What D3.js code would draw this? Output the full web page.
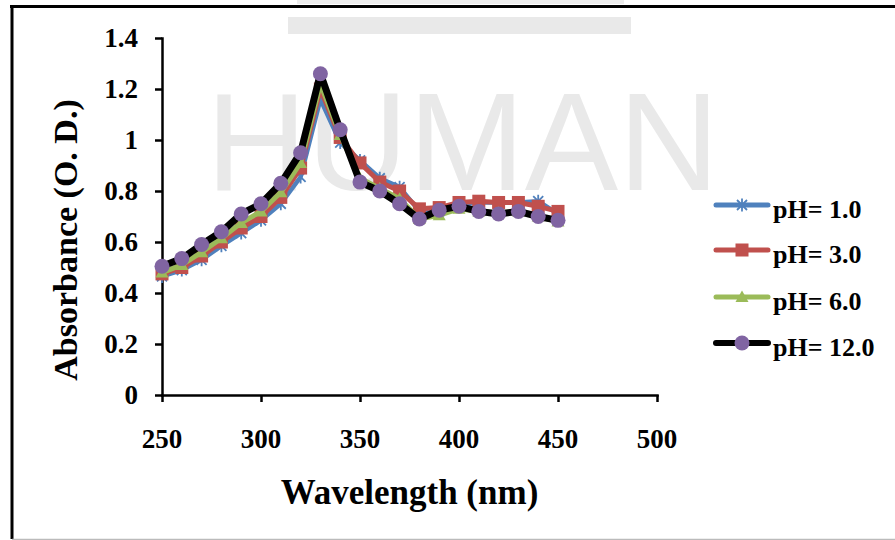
<!DOCTYPE html>
<html>
<head>
<meta charset="utf-8">
<script src="https://cdn.jsdelivr.net/npm/d3@7"></script>
<style>
  body { margin: 0; background: #fff; }
</style>
</head>
<body>
<div id="chart"></div>
<script>
// Data
const wavelengths = [250, 260, 270, 280, 290, 300, 310, 320, 330, 340, 350, 360, 370, 380, 390, 400, 410, 420, 430, 440, 450];
const ph1 = [0.465, 0.49, 0.53, 0.585, 0.635, 0.685, 0.75, 0.855, 1.16, 0.99, 0.92, 0.85, 0.815, 0.72, 0.72, 0.745, 0.755, 0.755, 0.755, 0.76, 0.71];
const ph3 = [0.475, 0.50, 0.545, 0.60, 0.655, 0.70, 0.775, 0.89, 1.20, 1.01, 0.91, 0.835, 0.80, 0.73, 0.735, 0.755, 0.76, 0.755, 0.755, 0.74, 0.72];
const ph6 = [0.48, 0.51, 0.56, 0.615, 0.675, 0.72, 0.795, 0.91, 1.22, 1.02, 0.85, 0.81, 0.77, 0.69, 0.705, 0.73, 0.72, 0.715, 0.72, 0.70, 0.68];
const ph12 = [0.505, 0.535, 0.59, 0.64, 0.71, 0.75, 0.83, 0.95, 1.26, 1.04, 0.835, 0.80, 0.75, 0.69, 0.725, 0.74, 0.72, 0.71, 0.72, 0.70, 0.685];
const seriesNames = ["pH= 1.0", "pH= 3.0", "pH= 6.0", "pH= 12.0"];
const xTicks = [250, 300, 350, 400, 450, 500];
const yTicks = [0, 0.2, 0.4, 0.6, 0.8, 1, 1.2, 1.4];
const yTickLabels = ["0", "0.2", "0.4", "0.6", "0.8", "1", "1.2", "1.4"];

const width = 895, height = 540;
const margin = { top: 38, left: 162, right: 238, bottom: 145 };
const serif = "'Liberation Serif', 'Times New Roman', serif";

const svg = d3.select("#chart").append("svg")
    .attr("width", width)
    .attr("height", height);

// faint watermark and page frame
svg.append("rect").attr("x", 297).attr("y", 0).attr("width", 327).attr("height", 4).attr("fill", "#ececec");
svg.append("rect").attr("x", 288).attr("y", 17).attr("width", 343).attr("height", 17).attr("fill", "#e9e9e9");
svg.append("text")
    .attr("x", 206).attr("y", 190)
    .attr("font-family", "'Liberation Sans', Arial, sans-serif")
    .attr("font-size", 140)
    .attr("fill", "#e9e9e9")
    .text("HUMAN");

svg.append("line").attr("x1", 10).attr("x2", width).attr("y1", 6.5).attr("y2", 6.5)
    .attr("stroke", "#000").attr("stroke-width", 3);
svg.append("line").attr("x1", 12).attr("x2", 12).attr("y1", 5).attr("y2", 539)
    .attr("stroke", "#000").attr("stroke-width", 3);
svg.append("line").attr("x1", 12).attr("x2", width).attr("y1", 539.5).attr("y2", 539.5)
    .attr("stroke", "#bbb").attr("stroke-width", 1.5);

const innerWidth = width - margin.left - margin.right;
const innerHeight = height - margin.top - margin.bottom;

const g = svg.append("g").attr("transform", "translate(" + margin.left + "," + margin.top + ")");

const x = d3.scaleLinear().domain([250, 500]).range([0, innerWidth]);
const y = d3.scaleLinear().domain([0, 1.4]).range([innerHeight, 0]);

// axes (lines and ticks only; labels drawn below from the same scales)
const xAxis = g.append("g")
    .attr("transform", "translate(0," + innerHeight + ")")
    .call(d3.axisBottom(x).tickValues(xTicks).tickSize(7).tickSizeOuter(0).tickFormat(""));
const yAxis = g.append("g")
    .call(d3.axisLeft(y).tickValues(yTicks).tickSize(7).tickSizeOuter(0).tickFormat(""));

[xAxis, yAxis].forEach(a => {
    a.selectAll("path, line").attr("stroke", "#000").attr("stroke-width", 2.5);
    a.select(".domain").attr("stroke-linecap", "square");
    a.selectAll("text").remove();
});

g.selectAll(".xlabel")
    .data(xTicks)
    .enter().append("text")
    .attr("class", "xlabel")
    .attr("x", d => x(d))
    .attr("y", innerHeight + 53)
    .attr("text-anchor", "middle")
    .attr("font-family", serif).attr("font-weight", "bold")
    .attr("font-size", 27)
    .text(d => d);

g.selectAll(".ylabel")
    .data(yTicks)
    .enter().append("text")
    .attr("class", "ylabel")
    .attr("x", -24)
    .attr("y", d => y(d))
    .attr("dy", "0.34em")
    .attr("text-anchor", "end")
    .attr("font-family", serif).attr("font-weight", "bold")
    .attr("font-size", 27)
    .text((d, i) => yTickLabels[i]);

// axis titles
g.append("text")
    .attr("text-anchor", "middle")
    .attr("x", innerWidth / 2)
    .attr("y", 504 - margin.top)
    .attr("font-family", serif).attr("font-weight", "bold")
    .attr("font-size", 35)
    .text("Wavelength (nm)");

g.append("text")
    .attr("text-anchor", "middle")
    .attr("transform", "translate(" + (77 - margin.left) + "," + (240 - margin.top) + ") rotate(-90)")
    .attr("font-family", serif).attr("font-weight", "bold")
    .attr("font-size", 34)
    .text("Absorbance (O. D.)");

// series
const colors = ["#4F81BD", "#C0504D", "#9BBB59", "#000000"];
const markerFill = ["#4F81BD", "#C0504D", "#9BBB59", "#8064A2"];
const lineWidths = [4.5, 5, 5, 7];
const allSeries = [ph1, ph3, ph6, ph12];

const line = d3.line()
    .x((d, i) => x(wavelengths[i]))
    .y(d => y(d));

function drawMarker(sel, k) {
    if (k === 0) {
        sel.append("path")
            .attr("d", "M0,-6.5L0,6.5M-5,-5L5,5M-5,5L5,-5")
            .attr("stroke", markerFill[k]).attr("stroke-width", 1.8).attr("fill", "none");
    } else if (k === 1) {
        sel.append("rect").attr("x", -6.5).attr("y", -6.5).attr("width", 13).attr("height", 13)
            .attr("fill", markerFill[k]);
    } else if (k === 2) {
        sel.append("path").attr("d", "M0,-6.5L6.5,5L-6.5,5Z").attr("fill", markerFill[k]);
    } else {
        sel.append("circle").attr("r", 7.5).attr("fill", markerFill[k]);
    }
}

allSeries.forEach((vals, k) => {
    g.append("path")
        .datum(vals)
        .attr("d", line)
        .attr("fill", "none")
        .attr("stroke", colors[k])
        .attr("stroke-width", lineWidths[k])
        .attr("stroke-linejoin", "round")
        .attr("stroke-linecap", "round");

    g.selectAll(".m" + k)
        .data(vals)
        .enter().append("g")
        .attr("class", "m" + k)
        .attr("transform", (d, i) => "translate(" + x(wavelengths[i]) + "," + y(d) + ")")
        .each(function () { drawMarker(d3.select(this), k); });
});

// legend
const legendY = [205, 250, 297, 343];
const legend = svg.selectAll(".legend")
    .data(seriesNames)
    .enter().append("g")
    .attr("class", "legend")
    .attr("transform", (d, i) => "translate(716," + legendY[i] + ")");

legend.append("line")
    .attr("x1", 0).attr("x2", 52).attr("y1", 0).attr("y2", 0)
    .attr("stroke", (d, i) => colors[i])
    .attr("stroke-width", (d, i) => i === 3 ? 6 : 5)
    .attr("stroke-linecap", "round");

legend.each(function (d, i) {
    const m = d3.select(this).append("g").attr("transform", "translate(26,0)");
    drawMarker(m, i);
});

legend.append("text")
    .attr("x", 57)
    .attr("y", 13)
    .attr("font-family", serif).attr("font-weight", "bold")
    .attr("font-size", 26)
    .text(d => d);
</script>
</body>
</html>
